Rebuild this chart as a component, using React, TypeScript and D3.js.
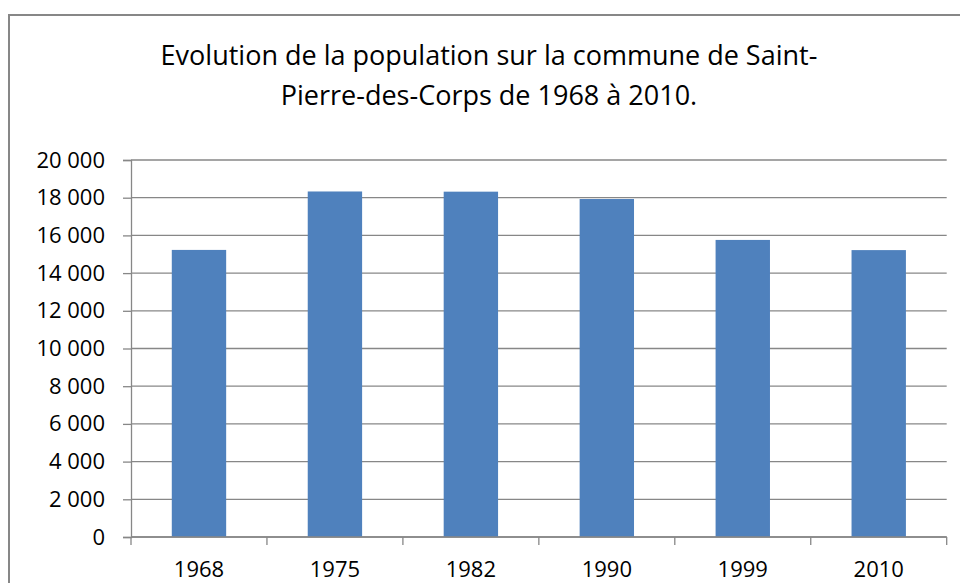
import * as d3 from 'd3';
import { useEffect, useRef } from 'react';

// données
const years = ['1968', '1975', '1982', '1990', '1999', '2010'];
const population = [15230, 18330, 18320, 17930, 15760, 15220];
const yTicks = [0, 2000, 4000, 6000, 8000, 10000, 12000, 14000, 16000, 18000, 20000];
const titleLines = ['Evolution de la population sur la commune de Saint-', 'Pierre-des-Corps de 1968 à 2010.'];

function App() {
    const svgRef = useRef<SVGSVGElement>(null);

    useEffect(() => {
        const svg = d3.select(svgRef.current);
        svg.selectAll('*').remove();

        const font = "'Open Sans', 'Liberation Sans', sans-serif";
        const grey = '#878787';

        // cadre du graphique
        svg.append('rect')
            .attr('x', 9)
            .attr('y', 15)
            .attr('width', 990)
            .attr('height', 620)
            .attr('fill', 'white')
            .attr('stroke', grey)
            .attr('stroke-width', 2);

        // titre
        svg.append('text')
            .attr('text-anchor', 'middle')
            .attr('font-family', font)
            .attr('font-size', 27)
            .attr('fill', '#000')
            .selectAll('tspan')
            .data(titleLines)
            .join('tspan')
            .attr('x', 489)
            .attr('y', (d, i) => 65 + i * 40)
            .text(d => d);

        const x = d3.scaleBand<string>()
            .domain(years)
            .range([131, 946.7])
            .paddingInner(0.6)
            .paddingOuter(0.3);

        const y = d3.scaleLinear()
            .domain([0, 20000])
            .range([537, 160]);

        const fr = d3.formatLocale({ decimal: ',', thousands: ' ', grouping: [3], currency: ['', ' €'] });
        const fmt = fr.format(',');

        // graduations de l'axe vertical
        const yAxis = svg.append('g')
            .attr('transform', `translate(${x.range()[0]},0)`)
            .call(d3.axisLeft(y).tickValues(yTicks).tickFormat(d => fmt(d as number)).tickSize(8).tickPadding(18));
        yAxis.select('.domain').attr('stroke', grey).attr('stroke-width', 1.3);
        yAxis.selectAll('.tick line').attr('stroke', grey).attr('stroke-width', 1.3);
        yAxis.selectAll('.tick text')
            .attr('font-family', font)
            .attr('font-size', 22)
            .attr('fill', '#000');

        // grille horizontale
        svg.append('g')
            .selectAll('line')
            .data(yTicks)
            .join('line')
            .attr('x1', x.range()[0])
            .attr('x2', x.range()[1])
            .attr('y1', d => y(d))
            .attr('y2', d => y(d))
            .attr('stroke', grey)
            .attr('stroke-width', 1.3);

        // barres
        svg.append('g')
            .selectAll('rect')
            .data(population)
            .join('rect')
            .attr('x', (d, i) => x(years[i])!)
            .attr('y', d => y(d))
            .attr('width', x.bandwidth())
            .attr('height', d => y(0) - y(d))
            .attr('fill', '#4F81BD');

        // axe des abscisses
        const step = x.step();
        const x0 = x.range()[0];
        const boundaries = d3.range(years.length + 1).map(i => x0 + i * step);
        svg.append('g')
            .selectAll('line')
            .data(boundaries)
            .join('line')
            .attr('x1', d => d)
            .attr('x2', d => d)
            .attr('y1', y(0))
            .attr('y2', y(0) + 8)
            .attr('stroke', grey)
            .attr('stroke-width', 1.3);

        svg.append('line')
            .attr('x1', x.range()[0])
            .attr('x2', x.range()[1])
            .attr('y1', y(0))
            .attr('y2', y(0))
            .attr('stroke', grey)
            .attr('stroke-width', 1.3);

        svg.append('g')
            .selectAll('text')
            .data(years)
            .join('text')
            .attr('x', d => x(d)! + x.bandwidth() / 2)
            .attr('y', 577)
            .attr('text-anchor', 'middle')
            .attr('font-family', font)
            .attr('font-size', 22)
            .attr('fill', '#000')
            .text(d => d);
    }, []);

    return (
        <svg ref={svgRef} width={960} height={583}
            style={{ position: 'absolute', left: 0, top: 0, display: 'block' }} />
    );
}

export default App;
